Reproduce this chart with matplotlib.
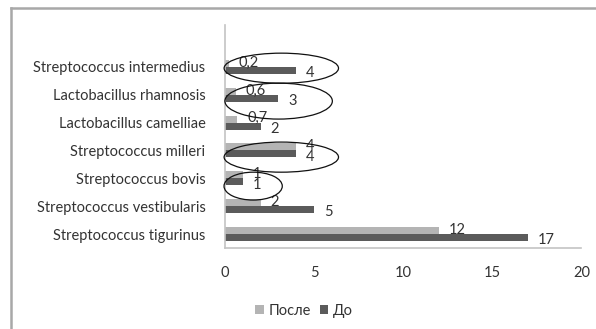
import matplotlib
matplotlib.use("Agg")
import matplotlib.pyplot as plt
from matplotlib.patches import Ellipse
from matplotlib.lines import Line2D
import numpy as np

plt.rcParams['font.family'] = ['Lato', 'DejaVu Sans']

categories = [
    "Streptococcus tigurinus",
    "Streptococcus vestibularis",
    "Streptococcus bovis",
    "Streptococcus milleri",
    "Lactobacillus camelliae",
    "Lactobacillus rhamnosis",
    "Streptococcus intermedius",
]
after_vals = [12, 2, 1, 4, 0.7, 0.6, 0.2]   # После
before_vals = [17, 5, 1, 4, 2, 3, 4]       # До
x_ticks = [0, 5, 10, 15, 20]
series_names = ["После", "До"]

light = "#b4b4b4"
dark = "#5b5b5b"
text_col = "#333333"

fig = plt.figure(figsize=(5.96, 3.29), dpi=100)
ax = fig.add_axes([0.3775, 0.2462, 0.598, 0.6778])

y = np.arange(len(categories))
h = 0.25
b_after = ax.barh(y + h / 2, after_vals, height=h, color=light, label=series_names[0])
b_before = ax.barh(y - h / 2, before_vals, height=h, color=dark, label=series_names[1])

def fmt(v):
    s = f"{v:g}"
    return s.replace(".", ",")

for bars, vals, dy in ((b_after, after_vals, 0.5), (b_before, before_vals, -2.0)):
    for rect, v in zip(bars, vals):
        ax.annotate(fmt(v), xy=(rect.get_width(), rect.get_y() + rect.get_height() / 2),
                    xytext=(7, dy), textcoords="offset points", va="center", ha="left",
                    fontsize=10.5, color=text_col)

ax.set_xlim(0, 20)
ax.set_ylim(-0.5, 7.5)
ax.set_xticks(x_ticks)
ax.set_xticklabels([str(t) for t in x_ticks])
ax.set_yticks(y)
ax.set_yticklabels(categories)
ax.tick_params(axis="x", length=0, pad=13, labelsize=10.5, colors=text_col)
ax.tick_params(axis="y", length=0, pad=14, labelsize=10.5, colors=text_col)

for side in ("top", "right"):
    ax.spines[side].set_visible(False)
for side in ("left", "bottom"):
    ax.spines[side].set_color("#c4c4c4")
    ax.spines[side].set_linewidth(1.2)

# highlighted groups
ellipses = [
    (3.16, 5.95, 6.42, 1.08),
    (3.01, 4.77, 6.03, 1.29),
    (3.16, 2.76, 6.42, 1.08),
    (1.58, 1.72, 3.27, 1.00),
]
for cx, cy, w, hh in ellipses:
    ax.add_patch(Ellipse((cx, cy), w, hh, fill=False, edgecolor="#111111",
                         linewidth=0.9, clip_on=False, zorder=5))

leg = fig.legend(handles=[b_after, b_before], labels=series_names,
                 loc="center", bbox_to_anchor=(0.51, 0.055), ncol=2, frameon=False,
                 fontsize=10.5, handlelength=0.6, handleheight=0.6, handletextpad=0.3,
                 columnspacing=0.6)
for t in leg.get_texts():
    t.set_color(text_col)

# outer frame
fig.add_artist(Line2D([11 / 596, 11 / 596], [0, 1 - 8 / 329], transform=fig.transFigure,
                      color="#a8a8a8", linewidth=1.8))
fig.add_artist(Line2D([11 / 596, 1], [1 - 8 / 329, 1 - 8 / 329], transform=fig.transFigure,
                      color="#a8a8a8", linewidth=1.8))

fig.savefig("out.png", dpi=100, facecolor="white")
